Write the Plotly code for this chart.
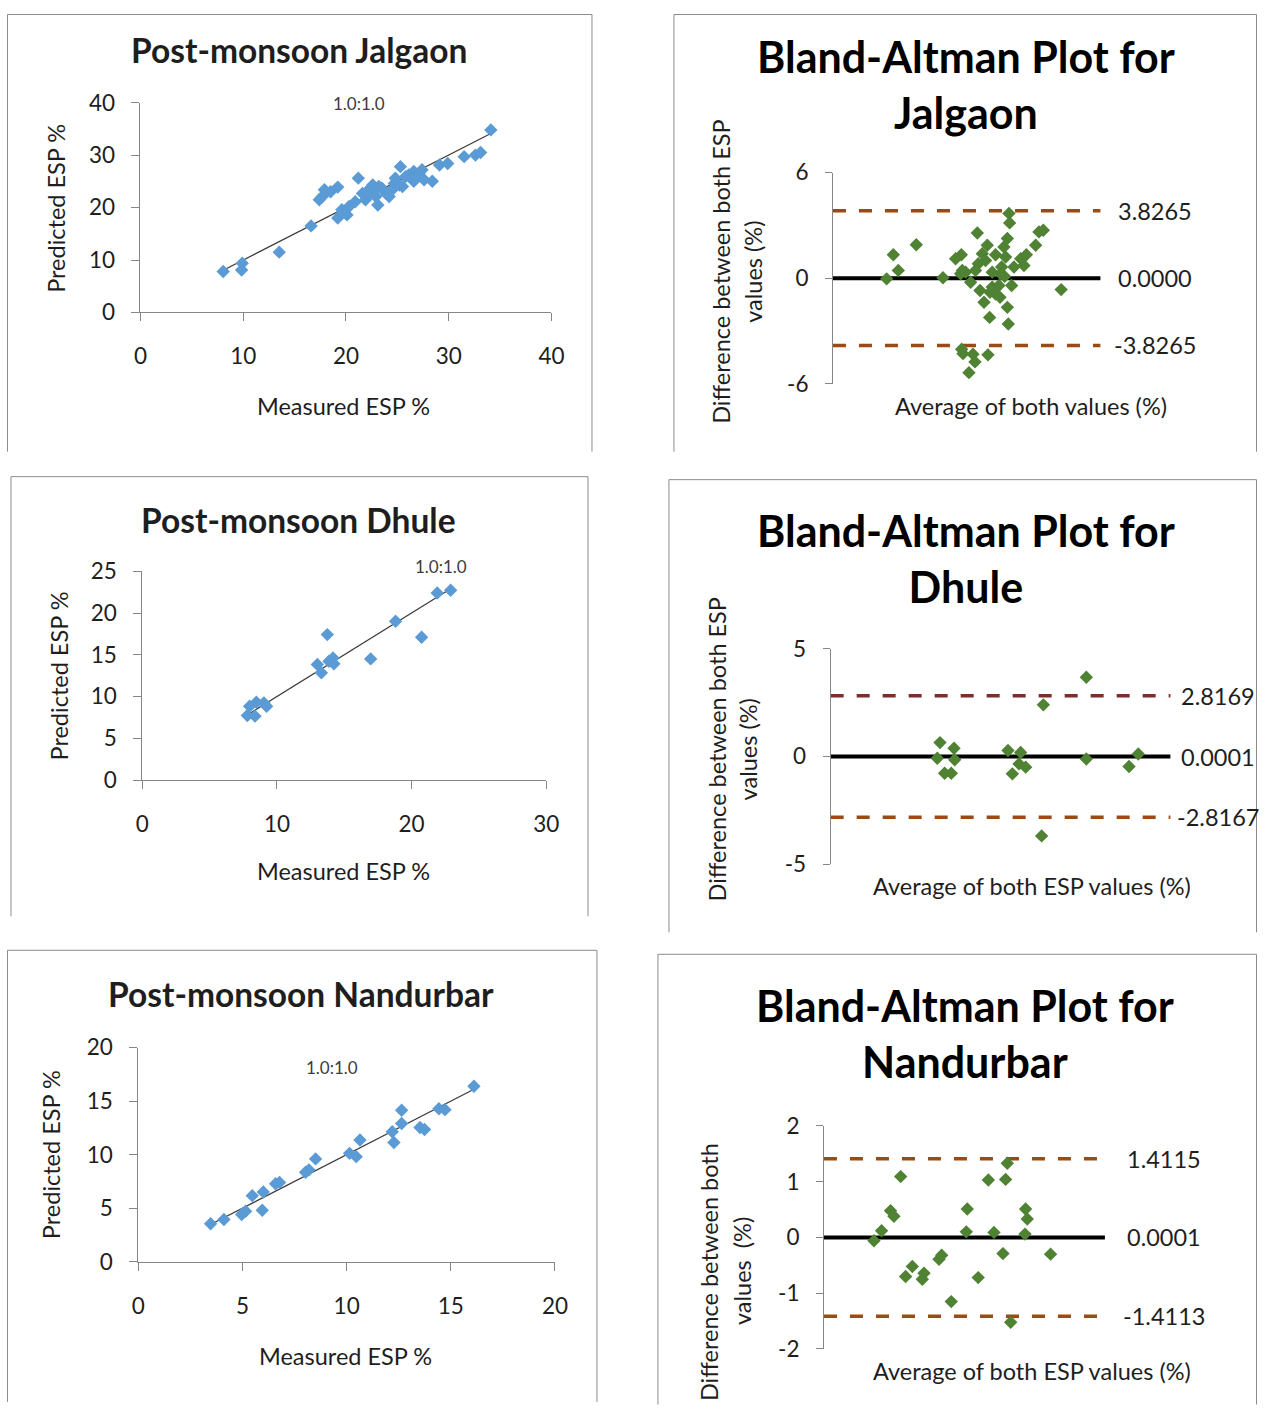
import plotly.graph_objects as go

W, H = 1270, 1418
FONT = "Lato"
BLUE = "#5b9bd5"
GREEN = "#4f8233"
AXIS = "#868686"
BORDER = "#8c8c8c"
TXT = "#1e1e1e"
BROWN = "#9a4a12"
MAROON = "#7a2e2e"

# ---------------- data ----------------
jal_measured = [8.05, 9.9, 9.84, 13.5, 16.6, 17.4, 17.7, 17.9, 18.5, 19.2, 19.2, 19.6, 20.1, 20.3,
                20.9, 21.2, 21.6, 21.9, 22.1, 22.2, 22.6, 22.7, 22.9, 23.1, 23.2, 23.5, 23.9, 24.2,
                24.5, 24.7, 24.8, 25.2, 25.3, 25.5, 25.8, 26.1, 26.6, 26.6, 27.1, 27.4, 27.6, 28.4,
                29.1, 29.9, 31.5, 32.6, 33.1, 34.1]
jal_predicted = [7.8, 9.4, 8.1, 11.5, 16.5, 21.5, 22.1, 23.4, 23.0, 23.9, 18.0, 19.6, 18.6, 20.2,
                 21.1, 25.6, 22.7, 21.5, 22.4, 23.4, 24.3, 23.0, 22.1, 20.5, 24.0, 23.7, 22.7, 22.1,
                 23.4, 24.6, 25.6, 24.3, 27.8, 24.0, 25.9, 26.2, 26.9, 25.0, 26.5, 27.2, 25.3, 25.0,
                 28.1, 28.4, 29.7, 30.0, 30.5, 34.8]
jal_ba_avg = [8.02, 9.02, 9.76, 12.45, 16.44, 18.33, 19.18, 19.08, 19.83, 20.57, 21.57, 21.72, 21.97,
              22.32, 22.57, 22.8, 23.06, 23.41, 23.46, 23.8, 24.3, 24.8, 24.96, 25.2, 25.55, 25.8,
              26.06, 26.06, 26.2, 26.3, 26.4, 26.7, 27.05, 28.05, 28.54, 28.9, 30.29, 30.78, 31.43,
              34.1, 19.23, 19.43, 20.92, 21.22, 23.16, 20.32, 19.33, 21.3, 23.8, 24.3, 25.05, 25.65]
jal_ba_diff = [-0.04, 1.33, 0.44, 1.90, 0.02, 1.10, 1.33, 0.25, 0.34, -0.23, 2.57, 0.82, -0.70,
               1.39, -1.37, 1.0, 1.87, -2.23, -0.8, 0.34, 1.33, -0.42, -1.09, 0.63, 1.77, 1.2,
               2.25, -1.66, -2.61, 3.68, 3.14, -0.42, 0.63, 1.10, 0.72, 1.33, 1.87, 2.63, 2.72,
               -0.65, -4.04, -4.29, -4.32, -4.76, -4.36, -5.37, 0.44, 0.44, -0.51, -0.9, 0.25, 0.1]
jal_limits = [3.8265, 0.0000, -3.8265]
jal_limit_labels = ["3.8265", "0.0000", "-3.8265"]

dhu_measured = [7.8, 7.97, 8.37, 8.47, 9.03, 9.23, 13.0, 13.3, 13.74, 13.86, 14.16, 14.23, 16.96,
                18.81, 20.74, 21.9, 22.9]
dhu_predicted = [7.74, 8.85, 7.66, 9.33, 9.25, 8.85, 13.84, 12.84, 17.42, 14.23, 14.63, 13.92, 14.51,
                 19.02, 17.1, 22.4, 22.73]
dhu_ba_avg = [8.04, 7.84, 9.07, 9.12, 8.38, 8.87, 13.04, 13.36, 13.97, 13.85, 14.34, 15.64, 15.51,
              18.8, 18.8, 21.94, 22.62]
dhu_ba_diff = [0.65, -0.08, 0.39, -0.15, -0.77, -0.77, 0.28, -0.8, 0.19, -0.34, -0.49, 2.40, -3.68,
               3.68, -0.11, -0.46, 0.12]
dhu_limits = [2.8169, 0.0001, -2.8167]
dhu_limit_labels = ["2.8169", "0.0001", "-2.8167"]

nan_measured = [3.47, 4.11, 4.96, 5.15, 5.47, 5.95, 6.0, 6.59, 6.78, 8.03, 8.19, 8.51, 10.14, 10.46,
                10.64, 12.19, 12.27, 12.64, 12.64, 13.52, 13.74, 14.43, 14.72, 16.11]
nan_predicted = [3.55, 3.95, 4.41, 4.72, 6.17, 4.81, 6.51, 7.28, 7.41, 8.36, 8.58, 9.6, 10.12, 9.81,
                 11.36, 12.13, 11.14, 14.14, 12.9, 12.53, 12.35, 14.29, 14.2, 16.39]
nan_ba_avg = [3.56, 4.1, 4.74, 4.98, 5.46, 5.81, 6.29, 7.0, 7.12, 8.19, 8.38, 9.06, 10.13, 10.2,
              10.98, 11.7, 12.1, 12.74, 12.93, 13.05, 13.29, 14.31, 14.35, 14.47, 16.13]
nan_ba_diff = [-0.06, 0.12, 0.48, 0.38, 1.09, -0.70, -0.52, -0.75, -0.64, -0.39, -0.32, -1.15, 0.10,
               0.51, -0.72, 1.03, 0.09, -0.29, 1.04, 1.33, -1.52, 0.06, 0.51, 0.33, -0.30]
nan_limits = [1.4115, 0.0001, -1.4113]
nan_limit_labels = ["1.4115", "0.0001", "-1.4113"]

scatter_titles = ["Post-monsoon Jalgaon", "Post-monsoon Dhule", "Post-monsoon Nandurbar"]
ba_titles = ["Bland-Altman Plot for<br>Jalgaon", "Bland-Altman Plot for<br>Dhule",
             "Bland-Altman Plot for<br>Nandurbar"]
ratio_label = "1.0:1.0"

TICK = 22.5
LAB = 23.5
MSIZE = 10.3

# the photographed page appears slightly inset/scaled; place items so they land where wanted
OX, SXF = 8.0, 0.9843
OY, SYF = 14.0, 0.9817


def px_page(s):
    return min(max((s - OX) / SXF, 0.5), W - 0.5)


def py_page(s):
    return min(max((s - OY) / SYF, 0.5), H - 0.5)


def fx(s):
    return px_page(s) / W


def fy(s):
    return 1 - py_page(s) / H


fig = go.Figure()
annotations = []
shapes = []


def text(x, y, s, size, bold=False, angle=0, color=TXT, xanchor="center"):
    annotations.append(dict(
        x=fx(x), y=fy(y), xref="paper", yref="paper", text=("<b>%s</b>" % s) if bold else s,
        showarrow=False, textangle=angle, xanchor=xanchor, yanchor="middle",
        font=dict(family=FONT, size=size, color=color)))


def border(l, r, t, b):
    for (x0, y0, x1, y1) in [(l, t, r, t), (l, t, l, b), (r, t, r, b)]:
        shapes.append(dict(type="line", xref="paper", yref="paper",
                           x0=fx(x0), y0=fy(y0), x1=fx(x1), y1=fy(y1),
                           line=dict(color=BORDER, width=1)))


def axis_common():
    return dict(showgrid=False, zeroline=False, showline=True, linecolor=AXIS, linewidth=1,
                ticks="outside", ticklen=8, tickcolor=AXIS, tickwidth=1,
                tickfont=dict(family=FONT, size=TICK, color=TXT), fixedrange=True)


def hyphen_ticks(vals):
    return [("-%g" % abs(v)) if v < 0 else ("%g" % v) for v in vals]


layout_axes = {}


def scatter_panel(i, meas, pred, xdom, ydom, xr, yr, xd, yd):
    xa = "x%d" % i
    ya = "y%d" % i
    fig.add_trace(go.Scatter(x=[min(meas), max(meas)], y=[min(meas), max(meas)], mode="lines",
                             line=dict(color="#3a3a3a", width=1.2), xaxis=xa, yaxis=ya,
                             showlegend=False, hoverinfo="skip"))
    fig.add_trace(go.Scatter(x=meas, y=pred, mode="markers",
                             marker=dict(symbol="diamond", size=MSIZE, color=BLUE),
                             xaxis=xa, yaxis=ya, showlegend=False))
    xk = "xaxis%d" % i
    yk = "yaxis%d" % i
    xd_ = axis_common()
    xd_.update(domain=[fx(xdom[0]), fx(xdom[1])], range=xr, dtick=xd, tick0=0, anchor=ya,
               ticklabelstandoff=16)
    yd_ = axis_common()
    yd_.update(domain=[fy(ydom[1]), fy(ydom[0])], range=yr, dtick=yd, tick0=0, anchor=xa,
               ticklabelstandoff=12)
    layout_axes[xk] = xd_
    layout_axes[yk] = yd_


def ba_panel(i, avg, diff, limits, labels, xdom, ydom, xr, yr, yticks, colors, label_cx):
    xa = "x%d" % i
    ya = "y%d" % i
    for v, c, lab in zip(limits, colors, labels):
        if c == "black":
            line = dict(color="black", width=4)
        else:
            line = dict(color=c, width=3.5, dash="13px,13px")
        fig.add_trace(go.Scatter(x=[xr[0], xr[1]], y=[v, v], mode="lines", line=line,
                                 xaxis=xa, yaxis=ya, showlegend=False, hoverinfo="skip",
                                 cliponaxis=False))
        annotations.append(dict(x=fx(label_cx), y=v, xref="paper", yref=ya, text=lab,
                                showarrow=False, xanchor="center", yanchor="middle",
                                font=dict(family=FONT, size=LAB, color=TXT)))
    fig.add_trace(go.Scatter(x=avg, y=diff, mode="markers",
                             marker=dict(symbol="diamond", size=MSIZE, color=GREEN),
                             xaxis=xa, yaxis=ya, showlegend=False, cliponaxis=False))
    xk = "xaxis%d" % i
    yk = "yaxis%d" % i
    layout_axes[xk] = dict(domain=[fx(xdom[0]), fx(xdom[1])], range=xr, visible=False,
                           anchor=ya, fixedrange=True)
    yd_ = axis_common()
    yd_.update(domain=[fy(ydom[1]), fy(ydom[0])], range=yr, tickvals=yticks,
               ticktext=hyphen_ticks(yticks), anchor=xa, ticklen=7, ticklabelstandoff=12)
    layout_axes[yk] = yd_


# ---- Jalgaon ----
scatter_panel(1, jal_measured, jal_predicted, (141.5, 552.5), (102.7, 312.7), [0, 40], [0, 40], 10, 10)
ba_panel(2, jal_ba_avg, jal_ba_diff, jal_limits, jal_limit_labels, (834, 1101.7), (172.7, 384),
         [0, 40], [-6, 6], [-6, 0, 6], [BROWN, "black", BROWN], 1156)
# ---- Dhule ----
scatter_panel(3, dhu_measured, dhu_predicted, (143.3, 547.3), (571.7, 780.7), [0, 30], [0, 25], 10, 5)
ba_panel(4, dhu_ba_avg, dhu_ba_diff, dhu_limits, dhu_limit_labels, (831.7, 1171.7), (649.3, 865),
         [0, 25], [-5, 5], [-5, 0, 5], [MAROON, "black", BROWN], 1219)
# ---- Nandurbar ----
scatter_panel(5, nan_measured, nan_predicted, (139.3, 556), (1048.3, 1262.7), [0, 20], [0, 20], 5, 5)
ba_panel(6, nan_ba_avg, nan_ba_diff, nan_limits, nan_limit_labels, (825, 1106), (1126.7, 1350),
         [0, 20], [-2, 2], [-2, -1, 0, 1, 2], [BROWN, "black", BROWN], 1165)

# borders
border(8, 593, 6, 452)
border(675, 1260, 6, 452)
border(12, 589, 477, 917)
border(670, 1266, 480, 933)
border(4, 598, 951, 1403)
border(659, 1269, 955, 1418)

# scatter titles / labels
for (tx, ty, s) in [(300, 50, scatter_titles[0]), (300, 520, scatter_titles[1]), (302, 995, scatter_titles[2])]:
    text(tx, ty, s, 33.5, bold=True)
for (tx, ty) in [(360, 104), (442, 567), (333, 1068)]:
    text(tx, ty, ratio_label, 17, color="#3c3c3c")
for (tx, ty) in [(345, 406), (345, 872), (347, 1357)]:
    text(tx, ty, "Measured ESP %", LAB)
for (tx, ty) in [(57, 208), (60, 676), (52, 1155)]:
    text(tx, ty, "Predicted ESP %", LAB, angle=-90)

# BA titles / labels
for (tx, ty, s) in [(967, 85, ba_titles[0]), (967, 559, ba_titles[1]), (966, 1034, ba_titles[2])]:
    annotations.append(dict(x=fx(tx), y=fy(ty), xref="paper", yref="paper", text="<b>%s</b>" % s,
                            showarrow=False, xanchor="center", yanchor="middle",
                            font=dict(family=FONT, size=43, color="black")))
text(1032, 406, "Average of both values (%)", LAB)
text(1033, 887, "Average of both ESP values (%)", LAB)
text(1033, 1372, "Average of both ESP values (%)", LAB)
text(722, 272, "Difference between both ESP", LAB, angle=-90)
text(754, 272, "values (%)", LAB, angle=-90)
text(718, 750, "Difference between both ESP", LAB, angle=-90)
text(749, 750, "values (%)", LAB, angle=-90)
text(710, 1273, "Difference between both", LAB, angle=-90)
text(743, 1272, "values  (%)", LAB, angle=-90)

fig.update_layout(width=W, height=H, margin=dict(l=0, r=0, t=0, b=0),
                  paper_bgcolor="white", plot_bgcolor="white", showlegend=False,
                  annotations=annotations, shapes=shapes, **layout_axes)

fig.write_html("out.html", config={"displayModeBar": False})
